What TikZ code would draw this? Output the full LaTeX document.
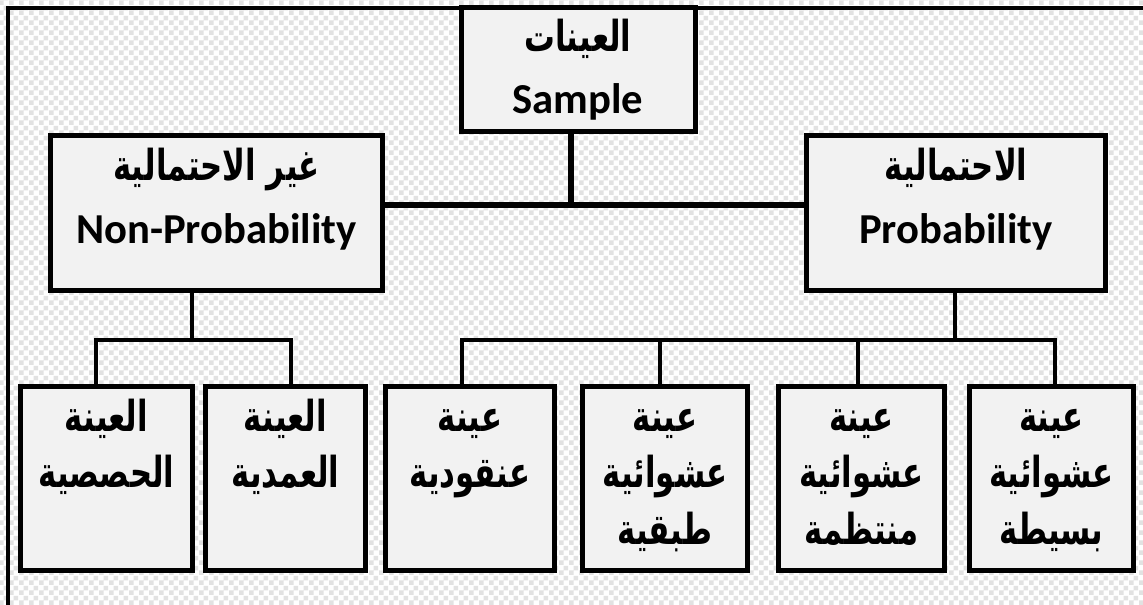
\documentclass[tikz,border=0pt]{standalone}
\usepackage{fontspec}
\setmainfont{Carlito}
\newfontfamily\arabicfont[Script=Arabic,FakeStretch=0.72]{DejaVu Sans}
\TeXXeTstate=1
\usetikzlibrary{patterns}
\pgfdeclarepatternformonly{chk}{\pgfpointorigin}{\pgfpoint{7.5pt}{7.5pt}}{\pgfpoint{7.5pt}{7.5pt}}{%
  \pgfpathrectangle{\pgfpointorigin}{\pgfpoint{3.75pt}{3.75pt}}%
  \pgfpathrectangle{\pgfpoint{3.75pt}{3.75pt}}{\pgfpoint{3.75pt}{3.75pt}}%
  \pgfusepath{fill}}
\definecolor{boxfill}{HTML}{F2F2F2}
\definecolor{chkgray}{HTML}{E2E2E2}
\newcommand{\artx}[1]{{\arabicfont\bfseries\fontsize{32}{47}\selectfont\beginR #1\endR}}
\newcommand{\bxc}[4]{\parbox[c][#2][t]{#1}{\centering\rule{0pt}{#3}#4\par}}
\begin{document}
\begin{tikzpicture}[x=0.75pt,y=-0.75pt,
  box/.style={draw=black, line width=3.75pt, fill=boxfill, inner sep=0pt},
  conn/.style={draw=black, line width=4pt},
  connlow/.style={draw=black, line width=3pt},
  frameline/.style={draw=black, line width=3pt}]
\useasboundingbox (0,0) rectangle (1143,605);
\fill[white] (0,0) rectangle (1143,605);
\fill[pattern=chk, pattern color=chkgray] (0,0) rectangle (1143,605);
\draw[frameline] (1143,8) -- (8,8) -- (8,605);

\node[box] (top) at (578,70) {\bxc{175.5pt}{93pt}{33pt}{\fontsize{32}{46}\selectfont\bfseries \artx{العينات}\\Sample}};
\node[box] (lm) at (216.5,213) {\bxc{249pt}{116.25pt}{34pt}{\fontsize{32}{47}\selectfont\bfseries \artx{غير الاحتمالية}\\Non-Probability}};
\node[box] (rm) at (956,213) {\bxc{224.25pt}{116.25pt}{34pt}{\fontsize{32}{47}\selectfont\bfseries \artx{الاحتمالية}\\Probability}};

\node[box] (b1) at (106.5,478.5) {\bxc{129pt}{138pt}{33.5pt}{\fontsize{32}{42.5}\selectfont \artx{العينة}\\\artx{الحصصية}}};
\node[box] (b2) at (285.5,478.5) {\bxc{120pt}{138pt}{33.5pt}{\fontsize{32}{42.5}\selectfont \artx{العينة}\\\artx{العمدية}}};
\node[box] (b3) at (470,478.5) {\bxc{126.75pt}{138pt}{33.5pt}{\fontsize{32}{42.5}\selectfont \artx{عينة}\\\artx{عنقودية}}};
\node[box] (b4) at (665,478.5) {\bxc{123.75pt}{138pt}{33.5pt}{\fontsize{32}{42.5}\selectfont \artx{عينة}\\\artx{عشوائية}\\\artx{طبقية}}};
\node[box] (b5) at (861.5,478.5) {\bxc{124.5pt}{138pt}{33.5pt}{\fontsize{32}{42.5}\selectfont \artx{عينة}\\\artx{عشوائية}\\\artx{منتظمة}}};
\node[box] (b6) at (1051.5,478.5) {\bxc{123pt}{138pt}{33.5pt}{\fontsize{32}{42.5}\selectfont \artx{عينة}\\\artx{عشوائية}\\\artx{بسيطة}}};

\coordinate (j0) at (571,205);
\draw[conn] (top.south -| j0) -- (j0);
\draw[conn] (lm.east |- j0) -- (rm.west |- j0);

\coordinate (j1) at (192,340);
\coordinate (j1a) at (96,340);
\coordinate (j1b) at (291,340);
\draw[connlow] (lm.south -| j1) -- (j1);
\draw[connlow] (b1.north -| j1a) -- (j1a) -- (j1b) -- (b2.north -| j1b);

\coordinate (j2) at (955,340);
\coordinate (j2a) at (462,340);
\coordinate (j2b) at (660,340);
\coordinate (j2c) at (858,340);
\coordinate (j2d) at (1055,340);
\draw[connlow] (rm.south -| j2) -- (j2);
\draw[connlow] (b3.north -| j2a) -- (j2a) -- (j2d) -- (b6.north -| j2d);
\draw[connlow] (j2b) -- (b4.north -| j2b);
\draw[connlow] (j2c) -- (b5.north -| j2c);
\end{tikzpicture}
\end{document}
